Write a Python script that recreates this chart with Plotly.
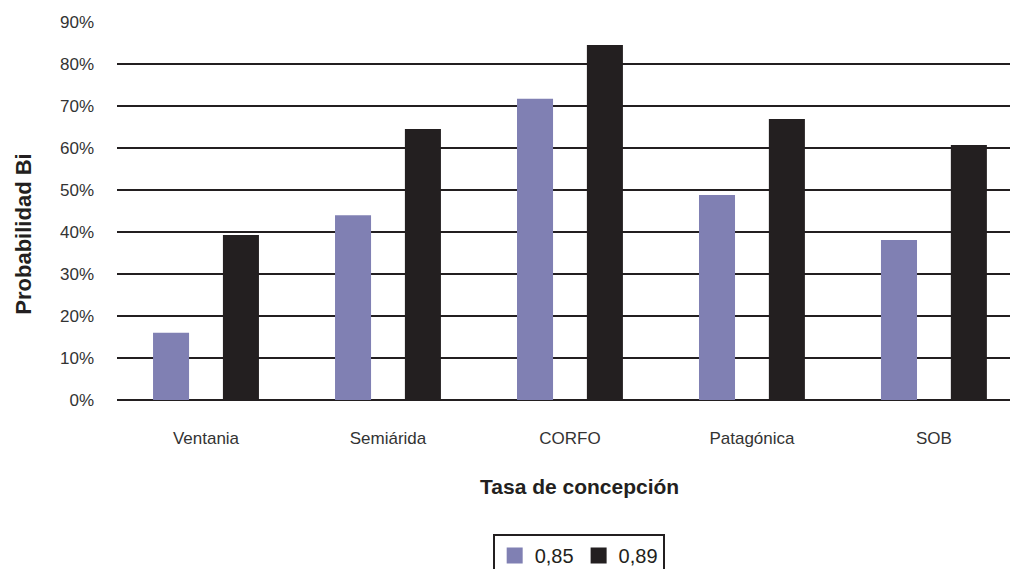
import plotly.graph_objects as go

# Categories and series values (probability as a fraction)
categorias = ["Ventania", "Semiárida", "CORFO", "Patagónica", "SOB"]
tasa_085 = [0.160, 0.440, 0.717, 0.488, 0.381]
tasa_089 = [0.393, 0.645, 0.845, 0.669, 0.607]
series_names = ["0,85", "0,89"]
y_ticks = [0.0, 0.1, 0.2, 0.3, 0.4, 0.5, 0.6, 0.7, 0.8, 0.9]

FONT = "Liberation Sans, Arial, sans-serif"
INK = "#231F20"
PURPLE = "#8080B3"
colors = [PURPLE, INK]

fig = go.Figure()
fig.add_trace(go.Bar(
    x=categorias, y=tasa_085, name=series_names[0], showlegend=False,
    marker=dict(color=colors[0], line=dict(width=0)),
    width=0.198, offset=-0.291,
))
fig.add_trace(go.Bar(
    x=categorias, y=tasa_089, name=series_names[1], showlegend=False,
    marker=dict(color=colors[1], line=dict(width=0)),
    width=0.198, offset=0.093,
))

# Legend entries with square swatches
for name, col in zip(series_names, colors):
    fig.add_trace(go.Scatter(
        x=[None], y=[None], mode="markers", name=name,
        marker=dict(symbol="square", size=16, color=col, line=dict(width=0)),
    ))

fig.update_layout(
    width=1010, height=569,
    margin=dict(l=117, r=0, t=22, b=169),
    paper_bgcolor="white", plot_bgcolor="white",
    barmode="overlay",
    font=dict(family=FONT, size=17, color=INK),
    showlegend=True,
    legend=dict(
        orientation="h",
        xref="paper", x=0.517, xanchor="center",
        yref="container", y=0.0615, yanchor="top",
        font=dict(family=FONT, size=20, color=INK),
        bordercolor=INK, borderwidth=2, bgcolor="white",
        itemsizing="trace",
    ),
    xaxis=dict(
        type="category",
        range=[-0.489, 4.418],
        showgrid=False, showline=False, ticks="",
        tickfont=dict(family=FONT, size=17, color="#333333"),
        ticklabelstandoff=26,
        fixedrange=True,
    ),
    yaxis=dict(
        range=[0, 0.9],
        tickvals=y_ticks,
        tickformat=".0%",
        showgrid=True, gridcolor=INK, gridwidth=2,
        zeroline=True, zerolinecolor=INK, zerolinewidth=2,
        showline=False, ticks="",
        tickfont=dict(family=FONT, size=17, color="#333333"),
        ticklabelstandoff=22,
        fixedrange=True,
    ),
    annotations=[
        dict(text="<b>Tasa de concepción</b>", xref="paper", yref="paper",
             x=0.518, y=-0.230, xanchor="center", yanchor="middle",
             showarrow=False, font=dict(family=FONT, size=21, color=INK)),
        dict(text="<b>Probabilidad Bi</b>", xref="paper", yref="paper",
             x=-0.105, y=0.438, xanchor="center", yanchor="middle",
             textangle=-90,
             showarrow=False, font=dict(family=FONT, size=22, color=INK)),
    ],
)

fig.write_html("out.html")
